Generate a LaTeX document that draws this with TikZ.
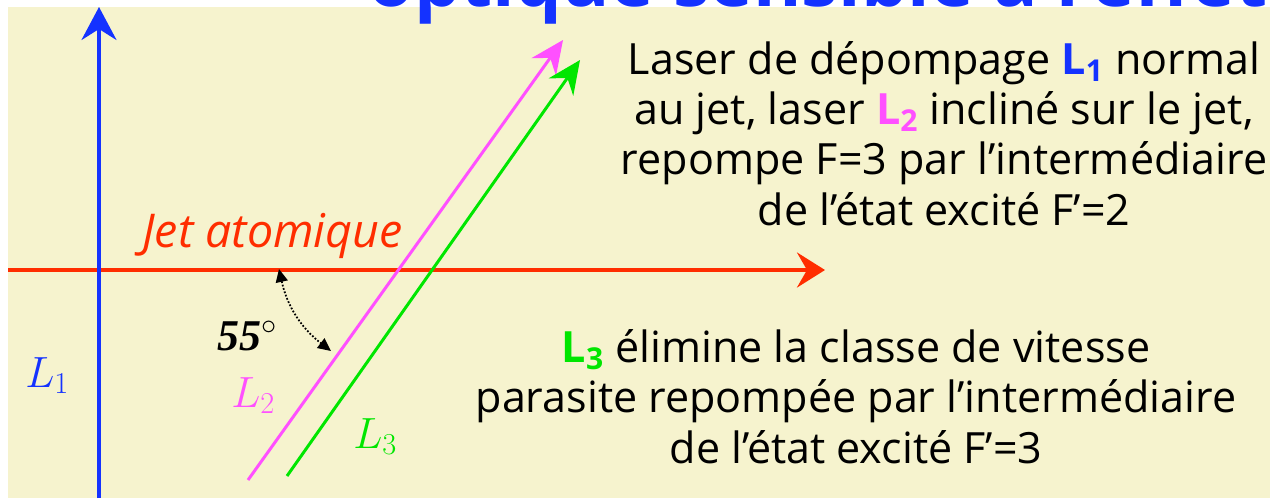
\documentclass[tikz,border=0pt]{standalone}
\usepackage{fontspec}
\setmainfont{Open Sans}
\newfontfamily\timesit{Liberation Serif}
\definecolor{laserblue}{RGB}{20,50,255}
\definecolor{laserpink}{RGB}{255,80,255}
\definecolor{lasergreen}{RGB}{0,230,0}
\definecolor{jetred}{RGB}{255,45,0}
\definecolor{paper}{RGB}{246,243,206}
\usetikzlibrary{arrows.meta}

\begin{document}
\begin{tikzpicture}[x=0.02cm,y=-0.02cm,
      beam/.style={line width=1.7pt},
      head/.style={-{Stealth[length=0.66cm,width=0.6cm,inset=0.22cm]}},
      txt/.style={align=center,inner sep=0pt,
                  font=\fontsize{24.5}{28.5}\selectfont},
      lab/.style={anchor=base west,inner sep=0pt,
                  font=\fontsize{25}{30}\selectfont}]
      \useasboundingbox (0,0) rectangle (1270,498);
      \clip (0,0) rectangle (1270,498);
      \fill[paper] (8,7) rectangle (1270,498);
      \node[anchor=base west,inner sep=0pt,text=laserblue,
            font=\fontsize{42}{48}\selectfont\bfseries] (titre) at (368,6)
            {optique sensible à l'effet};
      \coordinate (jetA) at (8,270);
      \coordinate (jetB) at (825,270);
      \coordinate (Lun0) at (99,498);
      \coordinate (Lun1) at (99,7);
      \coordinate (Ldeux0) at (248,480);
      \coordinate (Ldeux1) at (563,40);
      \coordinate (Ltrois0) at (287,476);
      \coordinate (Ltrois1) at (580,60);
      \draw[jetred,line width=2.2pt,
            -{Stealth[length=0.56cm,width=0.7cm,inset=0.2cm]}] (jetA) -- (jetB);
      \draw[laserblue,line width=2pt,
            -{Stealth[length=0.66cm,width=0.7cm,inset=0.22cm]}] (Lun0) -- (Lun1);
      \draw[beam,laserpink,head] (Ldeux0) -- (Ldeux1);
      \draw[beam,lasergreen,head] (Ltrois0) -- (Ltrois1);
      \coordinate (a1) at (279,269);
      \coordinate (a2) at (331,351);
      \draw[densely dotted,line width=1pt,
            {Triangle[length=0.26cm,width=0.24cm]}-{Triangle[length=0.26cm,width=0.24cm]}]
        (a1) to[bend right=20] (a2);
      \node[lab] (angle) at (217,350) {\timesit\bfseries\itshape 55$^\circ$};
      \node[lab,text=laserblue] (nomLun) at (25,387) {$L_1$};
      \node[lab,text=laserpink] (nomLdeux) at (231,407) {$L_2$};
      \node[lab,text=lasergreen] (nomLtrois) at (353,448) {$L_3$};
      \node[anchor=base west,inner sep=0pt,text=jetred,
            font=\fontsize{26.5}{30}\selectfont\itshape] (jet) at (142,247) {Jet atomique};
      \node[txt,anchor=base] (note1) at (944,225)
        {Laser de dépompage {\color{laserblue}\bfseries L\textsubscript{1}} normal\\
         au jet, laser {\color{laserpink}\bfseries L\textsubscript{2}} incliné sur le jet,\\
         repompe F=3 par l’intermédiaire\\
         de l’état excité F’=2};
      \node[txt,anchor=base] (note3) at (856,463)
        {{\color{lasergreen}\bfseries L\textsubscript{3}} élimine la classe de vitesse\\
         parasite repompée par l'intermédiaire\\
         de l'état excité F'=3};
    \end{tikzpicture}
\end{document}
